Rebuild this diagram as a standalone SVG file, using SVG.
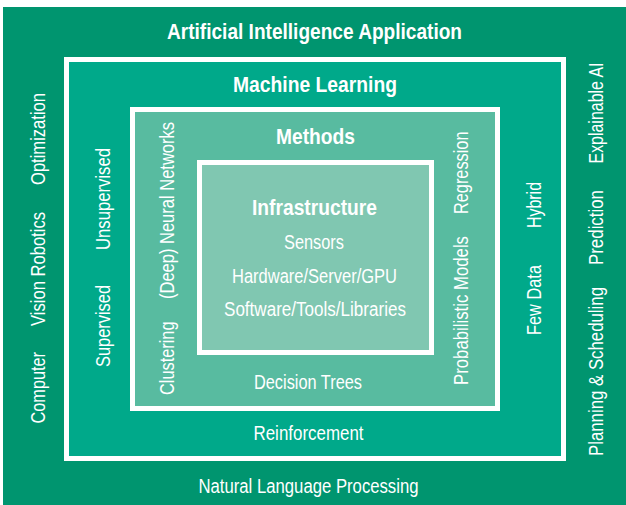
<svg xmlns="http://www.w3.org/2000/svg" width="626" height="505" viewBox="0 0 626 505">
  <style>
    .lbl { font-family: "Liberation Sans Narrow", "Liberation Sans", Arial, sans-serif; font-size: 20px; fill: #ffffff; }
    .ttl { font-family: "Liberation Sans Narrow", "Liberation Sans", Arial, sans-serif; font-size: 22.5px; font-weight: bold; fill: #ffffff; }
    .frame { stroke: #ffffff; stroke-width: 5; }
  </style>
  <rect x="0" y="0" width="626" height="505" fill="#ffffff"/>

  <!-- Outer layer: applications -->
  <g id="ai-application">
    <rect x="3" y="7" width="623" height="498" fill="#00956F"/>
    <text class="ttl" x="167" y="38.5" textLength="295" lengthAdjust="spacingAndGlyphs">Artificial Intelligence Application</text>
    <text class="lbl" x="198.5" y="493" textLength="220" lengthAdjust="spacingAndGlyphs">Natural Language Processing</text>
    <text class="lbl" transform="translate(44.5,423.5) rotate(-90)" textLength="71.5" lengthAdjust="spacingAndGlyphs">Computer</text>
    <text class="lbl" transform="translate(44.5,326) rotate(-90)" textLength="114" lengthAdjust="spacingAndGlyphs">Vision Robotics</text>
    <text class="lbl" transform="translate(44.5,185) rotate(-90)" textLength="92" lengthAdjust="spacingAndGlyphs">Optimization</text>
    <text class="lbl" transform="translate(602.5,456) rotate(-90)" textLength="169" lengthAdjust="spacingAndGlyphs">Planning &amp; Scheduling</text>
    <text class="lbl" transform="translate(602.5,265) rotate(-90)" textLength="75" lengthAdjust="spacingAndGlyphs">Prediction</text>
    <text class="lbl" transform="translate(602.5,163.5) rotate(-90)" textLength="101" lengthAdjust="spacingAndGlyphs">Explainable AI</text>
  </g>

  <!-- Second layer: machine learning -->
  <g id="machine-learning">
    <rect class="frame" x="66.5" y="59.5" width="497" height="399" fill="#00A98A"/>
    <text class="ttl" x="233" y="92" textLength="164" lengthAdjust="spacingAndGlyphs">Machine Learning</text>
    <text class="lbl" x="253.5" y="440" textLength="110" lengthAdjust="spacingAndGlyphs">Reinforcement</text>
    <text class="lbl" transform="translate(109.5,367) rotate(-90)" textLength="82" lengthAdjust="spacingAndGlyphs">Supervised</text>
    <text class="lbl" transform="translate(109.5,250) rotate(-90)" textLength="102" lengthAdjust="spacingAndGlyphs">Unsupervised</text>
    <text class="lbl" transform="translate(540.5,335) rotate(-90)" textLength="70" lengthAdjust="spacingAndGlyphs">Few Data</text>
    <text class="lbl" transform="translate(540.5,228) rotate(-90)" textLength="46" lengthAdjust="spacingAndGlyphs">Hybrid</text>
  </g>

  <!-- Third layer: methods -->
  <g id="methods">
    <rect class="frame" x="132.5" y="109.5" width="365" height="299" fill="#58BBA0"/>
    <text class="ttl" x="276" y="144" textLength="79" lengthAdjust="spacingAndGlyphs">Methods</text>
    <text class="lbl" x="254" y="388.5" textLength="108" lengthAdjust="spacingAndGlyphs">Decision Trees</text>
    <text class="lbl" transform="translate(174,395) rotate(-90)" textLength="73.5" lengthAdjust="spacingAndGlyphs">Clustering</text>
    <text class="lbl" transform="translate(174,299) rotate(-90)" textLength="177" lengthAdjust="spacingAndGlyphs">(Deep) Neural Networks</text>
    <text class="lbl" transform="translate(468,385) rotate(-90)" textLength="149" lengthAdjust="spacingAndGlyphs">Probabilistic Models</text>
    <text class="lbl" transform="translate(468,214) rotate(-90)" textLength="82.5" lengthAdjust="spacingAndGlyphs">Regression</text>
  </g>

  <!-- Core layer: infrastructure -->
  <g id="infrastructure">
    <rect class="frame" x="199.5" y="162.5" width="232" height="190" fill="#80C7B1"/>
    <text class="ttl" x="252" y="215" textLength="125" lengthAdjust="spacingAndGlyphs">Infrastructure</text>
    <text class="lbl" x="284" y="249" textLength="60" lengthAdjust="spacingAndGlyphs">Sensors</text>
    <text class="lbl" x="232" y="282.5" textLength="165" lengthAdjust="spacingAndGlyphs">Hardware/Server/GPU</text>
    <text class="lbl" x="224" y="316" textLength="182" lengthAdjust="spacingAndGlyphs">Software/Tools/Libraries</text>
  </g>

  <!-- Nested layers have no connectors -->
  <g id="connectors"/>
</svg>
